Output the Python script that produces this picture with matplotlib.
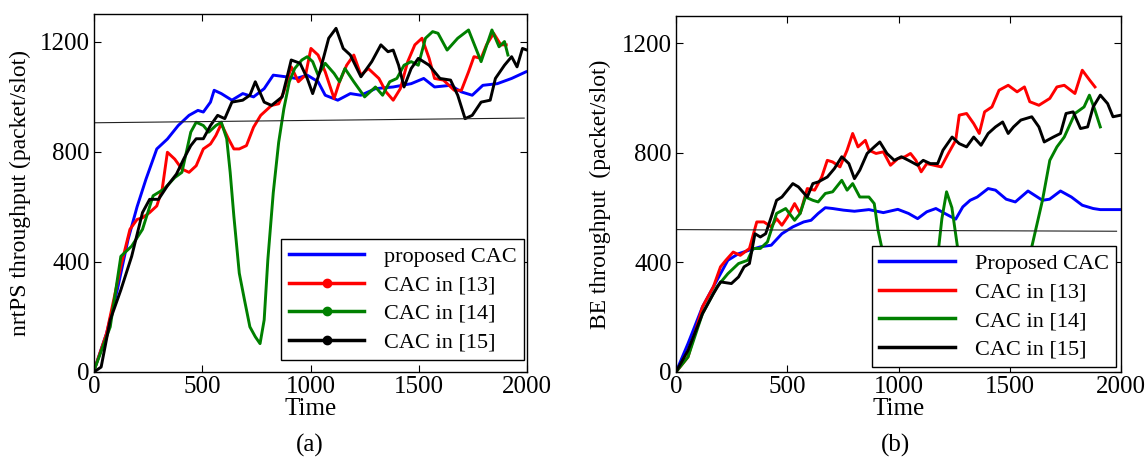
import numpy as np
import matplotlib
matplotlib.use("Agg")
import matplotlib.pyplot as plt
from matplotlib.lines import Line2D

plt.rcParams['font.family'] = ['Liberation Serif', 'DejaVu Serif']

# ---------------- (a) nrtPS throughput ----------------
a_blue_t = [0, 58, 108, 157, 199, 240, 290, 339, 389, 439, 480, 505, 538, 555, 588, 637, 687,
            737, 786, 828, 886, 935, 985, 1035, 1068, 1126, 1184, 1233, 1300, 1382, 1465, 1523,
            1573, 1647, 1697, 1747, 1796, 1863, 1929, 1995]
a_blue_y = [5, 140, 300, 480, 600, 700, 810, 846, 895, 932, 950, 944, 980, 1023, 1011, 987, 1011,
            999, 1029, 1078, 1072, 1066, 1078, 1054, 1005, 987, 1011, 1005, 1029, 1035, 1047, 1066,
            1035, 1041, 1017, 1005, 1041, 1047, 1066, 1090]

a_red_t = [0, 58, 124, 166, 199, 224, 257, 290, 315, 339, 373, 406, 439, 472, 505, 538, 563, 588,
           621, 646, 671, 704, 737, 770, 820, 853, 877, 911, 944, 977, 1002, 1035, 1068, 1109,
           1134, 1167, 1200, 1233, 1267, 1316, 1349, 1382, 1415, 1449, 1482, 1515, 1548, 1573,
           1614, 1664, 1697, 1730, 1755, 1788, 1813, 1846, 1879, 1904]
a_red_y = [5, 140, 384, 518, 554, 560, 579, 603, 664, 798, 773, 737, 725, 749, 810, 828, 859, 901,
           847, 810, 810, 822, 889, 932, 968, 974, 1017, 1108, 1054, 1078, 1175, 1151, 1090, 993,
           1054, 1114, 1151, 1078, 1102, 1066, 1017, 987, 1029, 1127, 1188, 1212, 1139, 1066,
           1060, 1023, 1023, 1090, 1145, 1139, 1188, 1230, 1188, 1188]

a_green_t = [0, 75, 124, 174, 224, 273, 323, 373, 406, 447, 472, 505, 530, 563, 588, 613, 629, 646,
             671, 695, 720, 745, 767, 786, 803, 828, 853, 877, 902, 927, 960, 985, 1010, 1035,
             1068, 1109, 1134, 1159, 1200, 1250, 1300, 1333, 1366, 1399, 1432, 1465, 1498, 1531,
             1564, 1589, 1631, 1680, 1730, 1788, 1838, 1871, 1896, 1912]
a_green_y = [5, 164, 420, 457, 518, 640, 664, 706, 725, 871, 907, 895, 871, 895, 907, 847, 725, 566,
             359, 262, 164, 128, 103, 189, 408, 651, 834, 956, 1054, 1102, 1133, 1145, 1127, 1078,
             1121, 1084, 1054, 1102, 1054, 999, 1035, 1005, 1054, 1066, 1114, 1127, 1114, 1212,
             1236, 1230, 1169, 1212, 1242, 1127, 1242, 1181, 1200, 1151]

a_black_t = [0, 33, 75, 124, 174, 224, 257, 298, 339, 381, 414, 447, 472, 505, 538, 571, 604, 637,
             687, 720, 745, 786, 820, 869, 894, 911, 952, 985, 1010, 1043, 1084, 1118, 1151, 1184,
             1233, 1283, 1325, 1358, 1382, 1407, 1432, 1465, 1498, 1548, 1598, 1647, 1680, 1714,
             1747, 1788, 1830, 1854, 1896, 1929, 1954, 1979, 2000]
a_black_y = [0, 18, 189, 298, 420, 579, 627, 627, 676, 719, 773, 822, 847, 847, 895, 932, 920, 980,
             987, 1005, 1054, 980, 968, 999, 1078, 1133, 1121, 1066, 1011, 1090, 1212, 1248, 1175,
             1151, 1072, 1127, 1188, 1163, 1169, 1114, 1035, 1102, 1139, 1114, 1066, 1060, 1005,
             920, 932, 980, 987, 1066, 1114, 1145, 1108, 1175, 1169]

a_ref_x = [0, 1987]
a_ref_y = [905, 922]

# ---------------- (b) BE throughput ----------------
b_blue_t = [0, 54, 119, 184, 233, 281, 330, 379, 428, 476, 525, 574, 607, 639, 671, 704, 753, 802,
            867, 932, 997, 1045, 1086, 1127, 1168, 1208, 1257, 1289, 1322, 1354, 1403, 1436, 1484,
            1525, 1582, 1647, 1679, 1728, 1777, 1826, 1875, 1907, 2000]
b_blue_y = [0, 104, 238, 335, 408, 432, 445, 457, 463, 505, 530, 548, 554, 579, 600, 597, 591, 587,
            593, 582, 594, 579, 560, 585, 597, 579, 558, 603, 627, 639, 670, 664, 631, 621, 661,
            627, 631, 661, 639, 609, 597, 593, 593]

b_red_t = [0, 54, 119, 168, 200, 224, 257, 289, 330, 363, 395, 428, 452, 476, 501, 533, 558, 590,
           623, 655, 680, 704, 737, 769, 794, 818, 851, 867, 899, 932, 964, 997, 1029, 1054, 1078,
           1102, 1127, 1159, 1192, 1224, 1257, 1273, 1306, 1338, 1363, 1387, 1420, 1452, 1493,
           1533, 1566, 1590, 1631, 1680, 1712, 1745, 1793, 1826, 1859, 1883]
b_red_y = [0, 55, 238, 311, 384, 408, 438, 426, 451, 548, 548, 530, 560, 536, 566, 615, 579, 670,
           664, 712, 773, 767, 749, 810, 871, 822, 846, 810, 798, 804, 755, 779, 786, 798, 773,
           731, 761, 755, 749, 798, 846, 938, 944, 907, 871, 950, 968, 1029, 1047, 1023, 1041, 987,
           974, 999, 1041, 1047, 1017, 1102, 1066, 1041]

b_green_t = [0, 54, 119, 184, 233, 281, 322, 346, 379, 411, 452, 493, 533, 558, 582, 615, 639, 671,
             704, 745, 769, 794, 826, 867, 891, 908, 924, 960, 1020, 1090, 1150, 1180, 1195, 1216,
             1240, 1265, 1300, 1400, 1500, 1570, 1599, 1647, 1680, 1712, 1745, 1793, 1834, 1858,
             1883, 1907]
b_green_y = [0, 55, 213, 311, 359, 396, 408, 451, 451, 475, 579, 597, 554, 579, 639, 627, 621, 652,
             658, 700, 664, 688, 639, 639, 615, 518, 457, 340, 300, 290, 360, 450, 560, 658, 600,
             457, 330, 290, 300, 360, 457, 627, 773, 822, 858, 944, 968, 1011, 956, 895]

b_black_t = [0, 54, 119, 168, 200, 249, 281, 306, 330, 355, 379, 403, 428, 452, 476, 501, 525, 550,
             590, 615, 639, 680, 712, 745, 777, 802, 826, 859, 891, 916, 948, 981, 1013, 1045,
             1086, 1111, 1143, 1176, 1200, 1241, 1273, 1306, 1338, 1371, 1403, 1436, 1468, 1493,
             1517, 1550, 1599, 1631, 1655, 1696, 1728, 1753, 1785, 1818, 1850, 1875, 1907, 1940,
             1964, 2000]
b_black_y = [0, 79, 213, 286, 329, 323, 347, 384, 396, 505, 493, 505, 566, 627, 639, 664, 688, 676,
             639, 688, 694, 712, 743, 786, 761, 706, 737, 798, 822, 840, 798, 773, 786, 773, 755,
             773, 761, 761, 810, 858, 834, 822, 858, 828, 871, 895, 913, 871, 895, 920, 932, 895,
             840, 858, 871, 944, 950, 889, 895, 968, 1011, 980, 932, 938]

b_ref_x = [0, 1980]
b_ref_y = [520, 514]

labels_a = ['proposed CAC', 'CAC in [13]', 'CAC in [14]', 'CAC in [15]']
labels_b = ['Proposed CAC', 'CAC in [13]', 'CAC in [14]', 'CAC in [15]']
colors = ['#0000ff', '#ff0000', '#008000', '#000000']

fig = plt.figure(figsize=(11.48, 4.63), dpi=100)
W, H = 1148, 463
ax1 = fig.add_axes([94 / W, (H - 372) / H, (527 - 94) / W, (372 - 14) / H])
ax2 = fig.add_axes([676 / W, (H - 372) / H, (1121 - 676) / W, (372 - 16) / H])

lw = 2.1
series_a = [(a_blue_t, a_blue_y), (a_red_t, a_red_y), (a_green_t, a_green_y), (a_black_t, a_black_y)]
series_b = [(b_blue_t, b_blue_y), (b_red_t, b_red_y), (b_green_t, b_green_y), (b_black_t, b_black_y)]

for (t, y), c in zip(series_a, colors):
    ax1.plot(t, y, color=c, lw=lw)
ax1.plot(a_ref_x, a_ref_y, color='#222222', lw=0.8)

for (t, y), c in zip(series_b, colors):
    ax2.plot(t, y, color=c, lw=lw)
ax2.plot(b_ref_x, b_ref_y, color='#222222', lw=0.8)

fs = 16
tfs = 18
for ax in (ax1, ax2):
    ax.set_xlim(0, 2000)
    ax.set_ylim(0, 1300)
    ax.set_xticks([0, 500, 1000, 1500, 2000])
    ax.set_yticks([0, 400, 800, 1200])
    ax.tick_params(direction='in', top=True, right=True, length=5, width=0.8,
                   labelsize=tfs, pad=3)
    for s in ax.spines.values():
        s.set_linewidth(1.0)
    ax.set_xlabel('Time', fontsize=tfs, labelpad=0)

ax1.set_ylabel('nrtPS throughput (packet/slot)', fontsize=17, labelpad=6)
ax2.set_ylabel('BE throughput  (packet/slot)', fontsize=17, labelpad=8)

# legend (a): lines with dot markers for the reference schemes
handles_a = [Line2D([], [], color=colors[0], lw=2.5)]
handles_a += [Line2D([], [], color=c, lw=2.5, marker='o', markersize=6) for c in colors[1:]]
leg1 = ax1.legend(handles_a, labels_a, loc='lower right', bbox_to_anchor=(0.994, 0.034),
                  borderaxespad=0, fontsize=fs, frameon=True, fancybox=False, framealpha=1,
                  handlelength=3.4, handletextpad=0.9, labelspacing=0.36, borderpad=0.33)
leg1.get_frame().set_edgecolor('black')
leg1.get_frame().set_linewidth(1.0)

handles_b = [Line2D([], [], color=c, lw=2.5) for c in colors]
leg2 = ax2.legend(handles_b, labels_b, loc='lower right', bbox_to_anchor=(0.989, 0.014),
                  borderaxespad=0, fontsize=fs, frameon=True, fancybox=False, framealpha=1,
                  handlelength=3.4, handletextpad=0.9, labelspacing=0.36, borderpad=0.33)
leg2.get_frame().set_edgecolor('black')
leg2.get_frame().set_linewidth(1.0)

fig.text(310 / W, 1 - 445 / H, '(a)', ha='center', va='center', fontsize=tfs)
fig.text(895 / W, 1 - 445 / H, '(b)', ha='center', va='center', fontsize=tfs)

fig.savefig('out.png', dpi=100)
